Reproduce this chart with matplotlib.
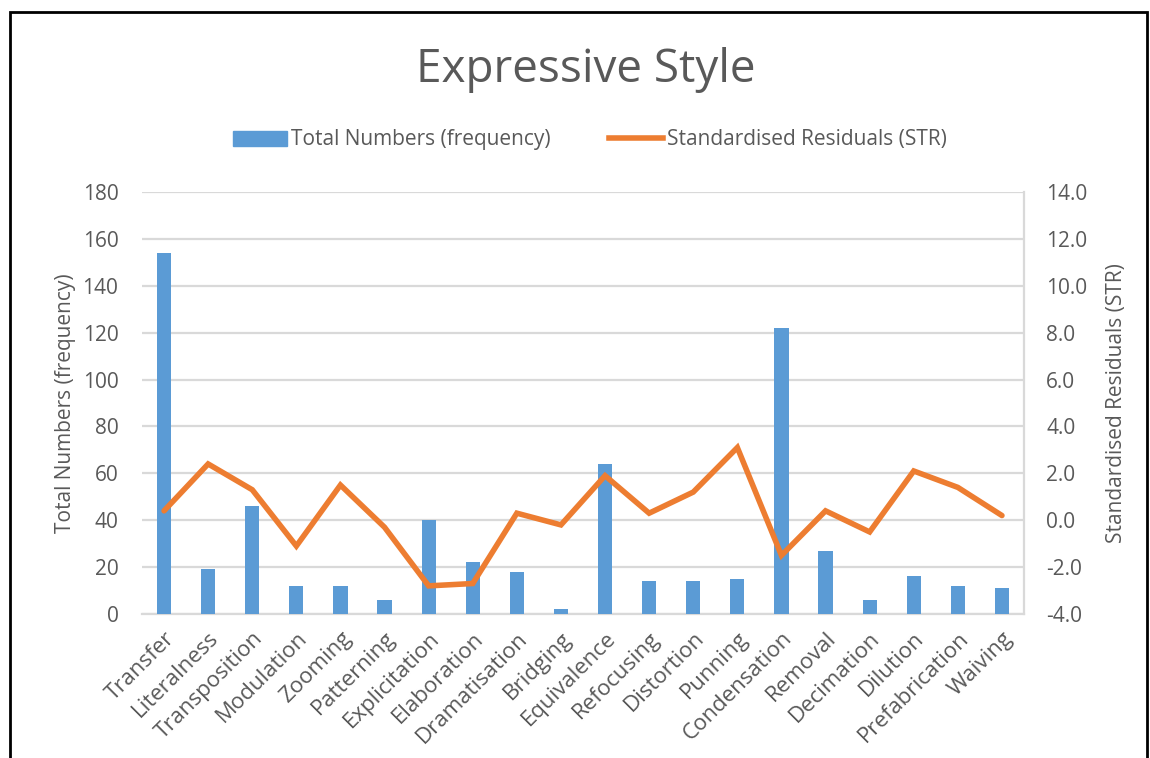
import matplotlib
matplotlib.use("Agg")
import matplotlib.pyplot as plt
from matplotlib.patches import Rectangle
from matplotlib.lines import Line2D
import numpy as np

categories = ["Transfer", "Literalness", "Transposition", "Modulation", "Zooming",
              "Patterning", "Explicitation", "Elaboration", "Dramatisation", "Bridging",
              "Equivalence", "Refocusing", "Distortion", "Punning", "Condensation",
              "Removal", "Decimation", "Dilution", "Prefabrication", "Waiving"]
frequency = [154, 19, 46, 12, 12, 6, 40, 22, 18, 2, 64, 14, 14, 15, 122, 27, 6, 16, 12, 11]
residuals = [0.4, 2.4, 1.3, -1.1, 1.5, -0.3, -2.8, -2.7, 0.3, -0.2,
             1.9, 0.3, 1.2, 3.1, -1.5, 0.4, -0.5, 2.1, 1.4, 0.2]
left_ticks = [0, 20, 40, 60, 80, 100, 120, 140, 160, 180]
right_ticks = [-4, -2, 0, 2, 4, 6, 8, 10, 12, 14]

BLUE = "#5B9BD5"
ORANGE = "#ED7D31"
TEXT = "#595959"
GRID = "#D9D9D9"

plt.rcParams["font.family"] = ["Open Sans", "DejaVu Sans"]

W, H = 1150, 758
fig = plt.figure(figsize=(W / 100, H / 100), dpi=100)
fig.patch.set_facecolor("white")

# outer chart frame
fig.patches.append(Rectangle((10 / W, -0.05), (1147 - 10) / W, 1.05 - 12 / H,
                             transform=fig.transFigure, fill=False,
                             edgecolor="black", linewidth=2.0, zorder=10))

ax = fig.add_axes([142 / W, 1 - 614 / H, (1024 - 142) / W, (614 - 192) / H])
ax2 = ax.twinx()

x = np.arange(len(categories))
ax.bar(x, frequency, width=0.32, color=BLUE, zorder=3)
ax2.plot(x, residuals, color=ORANGE, linewidth=4.0, solid_capstyle="round",
         solid_joinstyle="miter", zorder=4)

ax.set_xlim(-0.5, len(categories) - 0.5)
ax.set_ylim(0, 180)
ax2.set_ylim(-4, 14)
ax.set_yticks(left_ticks)
ax.set_yticklabels([str(v) for v in left_ticks])
ax2.set_yticks(right_ticks)
ax2.set_yticklabels([f"{v:.1f}" for v in right_ticks])

ax.yaxis.grid(True, color=GRID, linewidth=1.6, zorder=0)
ax.set_axisbelow(True)
for s in ["top", "left", "right"]:
    ax.spines[s].set_visible(False)
for s in ["top", "left", "bottom"]:
    ax2.spines[s].set_visible(False)
ax.spines["bottom"].set_color(GRID)
ax.spines["bottom"].set_linewidth(1.6)
ax2.spines["right"].set_color(GRID)
ax2.spines["right"].set_linewidth(1.6)

ax.tick_params(axis="y", length=0, pad=17, labelsize=15, labelcolor=TEXT)
ax2.tick_params(axis="y", length=0, pad=16, labelsize=15, labelcolor=TEXT)
ax.set_xticks(x)
ax.set_xticklabels(categories, rotation=45, ha="right", rotation_mode="anchor",
                   fontsize=16, color=TEXT)
ax.tick_params(axis="x", length=0, pad=10)

ax.set_ylabel("Total Numbers (frequency)", fontsize=15, color=TEXT, labelpad=5)
ax2.set_ylabel("Standardised Residuals (STR)", fontsize=15, color=TEXT, labelpad=13)

fig.text(586 / W, 1 - 70 / H, "Expressive Style", ha="center", va="center",
         fontsize=33, color=TEXT)

handles = [Rectangle((0, 0), 1, 1, color=BLUE),
           Line2D([0], [0], color=ORANGE, linewidth=4.0)]
fig.legend(handles, ["Total Numbers (frequency)", "Standardised Residuals (STR)"],
           loc="center", bbox_to_anchor=(590 / W, 1 - 140 / H), ncol=2, frameon=False,
           fontsize=15, labelcolor=TEXT, handlelength=2.6, handleheight=0.75,
           handletextpad=0.2, columnspacing=2.8)

fig.savefig("out.png", dpi=100, facecolor="white")
